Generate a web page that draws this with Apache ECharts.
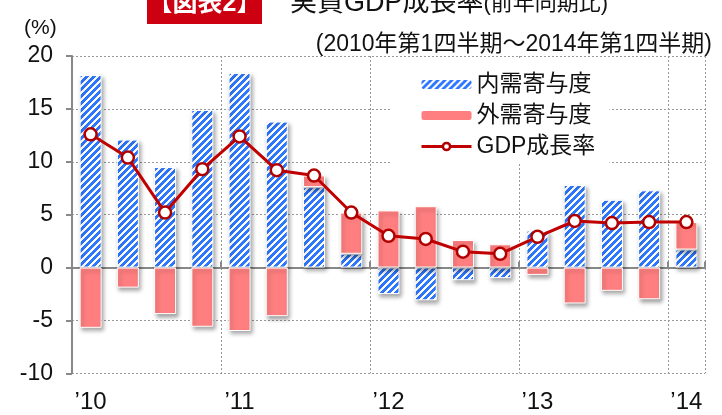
<!DOCTYPE html>
<html>
<head>
<meta charset="utf-8">
<script src="https://cdn.jsdelivr.net/npm/echarts@6/dist/echarts.min.js"></script>
<style>html,body{margin:0;padding:0;background:#fff;}#c{width:722px;height:415px;}</style>
</head>
<body>
<div id="c"></div>
<script>
// ---- data ----
var quarters = ['2010Q1','2010Q2','2010Q3','2010Q4','2011Q1','2011Q2','2011Q3','2011Q4',
                '2012Q1','2012Q2','2012Q3','2012Q4','2013Q1','2013Q2','2013Q3','2013Q4','2014Q1'];
var yearTickLabels = ['\u201910','','','','\u201911','','','','\u201912','','','','\u201913','','','','\u201914'];
var domestic = [18.2, 12.1, 9.5, 14.9, 18.4, 13.8, 7.6, 1.3, -2.5, -3.1, -1.2, -1.0, 3.5, 7.8, 6.4, 7.3, 1.7];
var external = [-5.7, -1.9, -4.4, -5.6, -6.0, -4.6, 1.1, 3.9, 5.4, 5.8, 2.6, 2.2, -0.7, -3.4, -2.2, -3.0, 2.6];
var gdp      = [12.6, 10.4, 5.2, 9.3, 12.4, 9.2, 8.7, 5.2, 3.0, 2.7, 1.5, 1.3, 2.9, 4.4, 4.2, 4.3, 4.3];
var seriesNames = ['内需寄与度', '外需寄与度', 'GDP成長率'];
var yTicks = {min: -10, max: 20, interval: 5};

// hatch pattern tile
var T = 7;
var tile = document.createElement('canvas');
tile.width = T; tile.height = T;
var tc = tile.getContext('2d');
var img = tc.createImageData(T, T);
for (var y = 0; y < T; y++) {
  for (var x = 0; x < T; x++) {
    var i = (y * T + x) * 4;
    var on = ((x + y) % T) < 4;
    img.data[i] = on ? 0x2e : 255;
    img.data[i+1] = on ? 0x78 : 255;
    img.data[i+2] = on ? 0xff : 255;
    img.data[i+3] = 255;
  }
}
tc.putImageData(img, 0, 0);

var FONT = "'Liberation Sans', 'Noto Sans CJK JP', sans-serif";
var chart = echarts.init(document.getElementById('c'), null, {renderer: 'canvas'});
var barShadow = {shadowColor: 'rgba(0,0,0,0.35)', shadowBlur: 4, shadowOffsetX: 2, shadowOffsetY: 3};

chart.setOption({
  animation: false,
  backgroundColor: '#fff',
  textStyle: {fontFamily: FONT},
  grid: {left: 72, right: 17, top: 56, bottom: 41.7, containLabel: false},
  legend: {
    orient: 'vertical',
    left: 392, top: 58,
    padding: [15, 14, 6, 28],
    backgroundColor: '#fff',
    itemWidth: 50, itemHeight: 9, itemGap: 8, itemTextGap: 8,
    data: [
      {name: seriesNames[0]},
      {name: seriesNames[1]},
      {name: seriesNames[2], itemStyle: {color: '#fff', borderColor: '#b00000', borderWidth: 2.5}, lineStyle: {color: '#c00000', width: 3}}
    ],
    textStyle: {fontSize: 23, lineHeight: 22, color: '#111', fontFamily: FONT},
    itemStyle: {shadowBlur: 0, shadowOffsetX: 0, shadowOffsetY: 0, borderWidth: 0}
  },
  xAxis: [{
    type: 'category',
    data: quarters,
    boundaryGap: true,
    position: 'bottom',
    axisLine: {show: false, onZero: false},
    axisTick: {show: false},
    axisLabel: {
      interval: 0, fontSize: 24, color: '#111', margin: 17, fontFamily: FONT,
      formatter: function (v, idx) { return yearTickLabels[idx]; }
    },
    splitLine: {show: true, interval: 3, lineStyle: {color: '#999', type: [2, 2], width: 1}}
  }, {
    type: 'category',
    data: quarters,
    boundaryGap: true,
    axisLine: {show: true, onZero: true, lineStyle: {color: '#888', width: 2}},
    axisTick: {show: true, interval: 3, inside: false, length: 6, lineStyle: {color: '#888', width: 2}},
    axisLabel: {show: false},
    splitLine: {show: false}
  }],
  yAxis: {
    type: 'value',
    min: yTicks.min, max: yTicks.max, interval: yTicks.interval,
    axisLine: {show: true, lineStyle: {color: '#888', width: 2}},
    axisTick: {show: true, length: 6, lineStyle: {color: '#888', width: 2}},
    axisLabel: {fontSize: 23, color: '#111', margin: 19, fontFamily: FONT},
    splitLine: {show: true, lineStyle: {color: '#999', type: [2, 2], width: 1}}
  },
  series: [{
    name: seriesNames[0],
    type: 'bar', stack: 'c', xAxisIndex: 0,
    barWidth: 22,
    data: domestic,
    itemStyle: Object.assign({color: {image: tile, repeat: 'repeat'}, borderColor: '#fff', borderWidth: 1}, barShadow)
  }, {
    name: seriesNames[1],
    type: 'bar', stack: 'c', xAxisIndex: 0,
    barWidth: 22,
    data: external,
    itemStyle: Object.assign({color: '#ff7f80', borderColor: '#fff', borderWidth: 1}, barShadow)
  }, {
    name: seriesNames[2],
    type: 'line', xAxisIndex: 0,
    data: gdp,
    symbol: 'circle', symbolSize: 12,
    lineStyle: {color: '#c00000', width: 3},
    itemStyle: {color: '#fff', borderColor: '#b00000', borderWidth: 2.5},
    z: 5
  }],
  graphic: [
    {type: 'rect', left: 147, top: 0, shape: {width: 115, height: 24}, style: {fill: '#cc0010'}, z: 10},
    {type: 'text', x: 204.5, y: 4, z: 11, style: {text: '【図表2】', fill: '#fff', font: 'bold 25px ' + FONT, textAlign: 'center', textVerticalAlign: 'middle'}},
    {type: 'text', x: 290, y: 4, z: 11, style: {
      text: '{a|実質GDP成長率}{b|(前年同期比)}',
      rich: {a: {fontSize: 27, fontFamily: FONT, fill: '#111'}, b: {fontSize: 22, fontFamily: FONT, fill: '#111'}},
      textVerticalAlign: 'middle'}},
    {type: 'text', x: 712, y: 45, z: 11, style: {text: '(2010年第1四半期～2014年第1四半期)', fill: '#111', font: '23px ' + FONT, textAlign: 'right', textVerticalAlign: 'middle'}},
    {type: 'text', x: 24, y: 28, z: 11, style: {text: '(%)', fill: '#111', font: '21px ' + FONT, textAlign: 'left', textVerticalAlign: 'middle'}}
  ]
});
</script>
</body>
</html>
